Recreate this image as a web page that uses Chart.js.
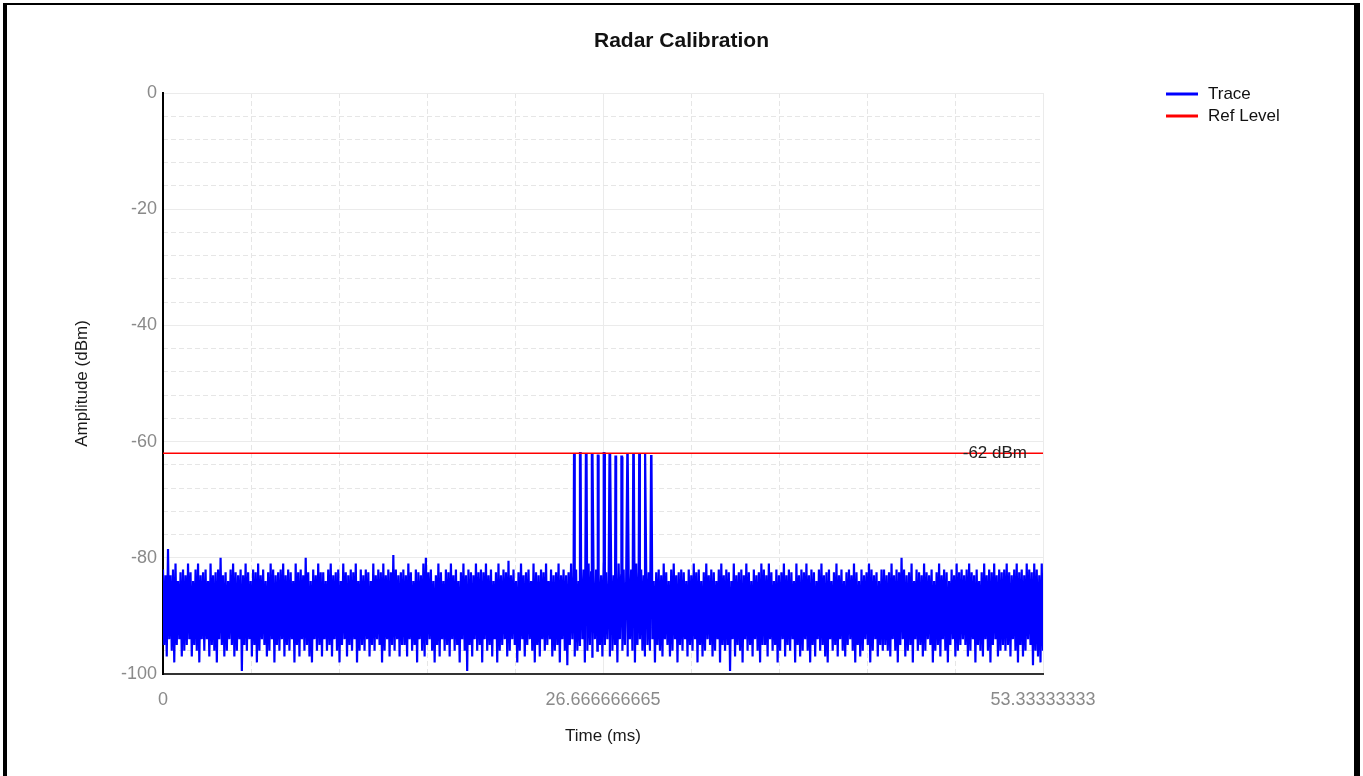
<!DOCTYPE html>
<html>
<head>
<meta charset="utf-8">
<title>Radar Calibration</title>
<script src="https://cdn.jsdelivr.net/npm/chart.js@4.4.1/dist/chart.umd.min.js"></script>
<style>
    html, body { margin: 0; padding: 0; background: #fff; overflow: hidden; }
    canvas { position: absolute; left: 0; top: 0; }
    #frame {
        position: absolute; left: 3px; top: 3px; width: 1347px; height: 800px;
        border-left: 4px solid #000; border-top: 2px solid #000; border-right: 6px solid #000;
        pointer-events: none;
    }
</style>
</head>
<body>
<canvas id="js--chart" width="1363" height="776"></canvas>
<div id="frame"></div>
<script>
const chartTitle = "Radar Calibration";
const xAxisTitle = "Time (ms)";
const yAxisTitle = "Amplitude (dBm)";

const timeMax = 53.33333333;
const xTickValues = [0, 26.666666665, 53.33333333];
const xTickLabels = ["0", "26.666666665", "53.33333333"];

const refLevel = -62;
const refLabel = "-62 dBm";

// noise: top and bottom swing of each sample pair (dBm)
const noiseHigh = [
    -82, -83, -78.5, -83, -82, -81, -84, -82.5, -82, -83, -81, -82.5, -84, -82, -81, -83,
    -82.5, -82, -84, -81, -83, -82.5, -82, -80, -83, -82.5, -84, -82, -81, -82.5, -83, -82,
    -83, -81, -82.5, -84, -82, -82.5, -81, -83, -82, -84, -82.5, -81, -82, -83, -82.5, -82,
    -81, -83, -82, -82.5, -84, -81, -82.5, -82, -83, -80, -82.5, -84, -82, -83, -81, -82.5,
    -82.5, -84, -82, -81, -83, -82.5, -82, -84, -81, -82.5, -83, -82, -82.5, -81, -84, -82,
    -83, -82, -82.5, -84, -81, -83, -82, -82.5, -81, -83, -82, -82.5, -79.5, -82, -83, -82.5,
    -82, -83, -81, -82.5, -84, -82, -82.5, -83, -81, -80, -82.5, -82, -84, -83, -81, -82.5,
    -84, -82, -82.5, -81, -83, -82, -84, -82.5, -81, -83, -82, -82.5, -83, -81, -82.5, -82,
    -82.5, -81, -83, -82, -84, -82.5, -81, -83, -82, -82.5, -80.5, -83, -82, -84, -82.5, -81,
    -83, -82.5, -82, -84, -81, -82.5, -83, -82, -82.5, -81, -84, -82, -83, -82.5, -81, -83,
    -82, -83, -82.5, -81, -83, -82, -84, -82.5, -82, -83, -81, -82.5, -84, -82, -82.5, -83,
    -81, -82.5, -84, -82, -83, -82.5, -81, -83, -82, -84, -82.5, -82, -83, -81, -82.5, -82,
    -83, -82, -82.5, -81, -84, -82.5, -82, -83, -81, -82.5, -84, -82, -81, -83, -82.5, -82,
    -82.5, -84, -82, -83, -81, -82.5, -82, -84, -82.5, -81, -83, -82, -82.5, -84, -82, -81,
    -83, -82, -82.5, -84, -81, -83, -82.5, -82, -83, -81, -82.5, -84, -82, -83, -82.5, -81,
    -82, -83, -81, -82.5, -84, -82, -83, -82.5, -81, -83, -82, -82.5, -84, -81, -83, -82,
    -82.5, -81, -83, -82, -82.5, -84, -82, -81, -83, -82.5, -82, -84, -82.5, -81, -83, -82,
    -84, -82.5, -82, -83, -81, -82.5, -84, -82, -83, -82.5, -81, -82, -83, -82.5, -84, -82,
    -82, -83, -82.5, -81, -83, -82, -82.5, -80, -82, -83, -82.5, -81, -84, -82, -82.5, -83,
    -81, -82.5, -83, -82, -84, -82.5, -81, -83, -82, -82.5, -84, -82, -83, -81, -82.5, -82,
    -83, -82, -81, -82.5, -83, -82, -84, -82.5, -81, -83, -82, -82.5, -81, -83, -82, -82.5,
    -82, -81, -82.5, -83, -82, -81, -82.5, -82, -83, -81, -82, -82.5, -81, -82, -83, -81
];
const noiseLow = [
    -95, -97, -94, -96, -98, -95, -94, -97, -96, -95, -94, -97, -95, -96, -98, -94,
    -96, -94, -97, -95, -96, -98, -94, -95, -97, -96, -94, -95, -97, -96, -94, -99.5,
    -95, -96, -94, -97, -95, -98, -96, -94, -95, -97, -96, -94, -98, -95, -96, -94,
    -97, -95, -96, -94, -98, -95, -97, -94, -96, -95, -97, -98, -94, -96, -95, -97,
    -94, -96, -95, -97, -94, -96, -98, -95, -94, -97, -95, -96, -94, -98, -96, -95,
    -96, -94, -97, -95, -96, -94, -95, -98, -96, -94, -97, -95, -96, -94, -97, -95,
    -95, -97, -94, -96, -95, -98, -94, -96, -97, -95, -94, -96, -98, -95, -97, -94,
    -96, -95, -97, -94, -96, -95, -98, -94, -96, -99.5, -95, -97, -94, -96, -95, -98,
    -94, -96, -95, -97, -94, -98, -96, -95, -94, -97, -96, -94, -95, -98, -96, -94,
    -97, -95, -94, -96, -98, -95, -97, -94, -96, -95, -94, -97, -96, -95, -98, -94,
    -96, -98.5, -95, -94, -97, -96, -95, -94, -98, -96, -95, -97, -94, -96, -95, -97,
    -95, -94, -97, -96, -95, -98, -94, -96, -95, -97, -94, -96, -98, -95, -94, -96,
    -97, -95, -96, -94, -98, -95, -96, -97, -94, -95, -97, -96, -94, -98, -95, -96,
    -94, -97, -95, -96, -94, -98, -95, -97, -96, -94, -95, -97, -96, -94, -98, -95,
    -96, -95, -99.5, -94, -97, -95, -96, -98, -94, -96, -95, -97, -94, -96, -98, -95,
    -95, -97, -94, -96, -95, -98, -96, -94, -97, -95, -96, -94, -98, -95, -97, -96,
    -94, -96, -98, -95, -97, -94, -96, -95, -97, -98, -94, -96, -95, -97, -94, -96,
    -97, -95, -94, -96, -98, -95, -97, -96, -94, -95, -98, -96, -94, -97, -95, -96,
    -95, -96, -97, -94, -96, -98, -95, -94, -97, -96, -95, -98, -94, -96, -95, -97,
    -96, -94, -95, -98, -96, -95, -97, -94, -96, -98, -95, -94, -97, -96, -95, -94,
    -95, -97, -96, -94, -98, -95, -96, -97, -94, -96, -98, -95, -94, -97, -96, -95,
    -96, -95, -97, -94, -96, -98, -95, -97, -96, -94, -95, -98.5, -96, -97, -98, -96
];

// radar pulses (ms) and their peak level (dBm)
const pulseTimes = [24.91, 25.27, 25.63, 25.99, 26.35, 26.71, 27.06, 27.42, 27.78, 28.14, 28.50, 28.86, 29.22, 29.58];
const pulseLevels = [-62, -62, -62, -62, -62.4, -62, -62, -62.6, -62.6, -62, -62, -62, -62, -62.3];
const pulseWidth = 0.04;

const pairCount = Math.min(noiseHigh.length, noiseLow.length);
const sampleStep = timeMax / (pairCount - 0.5);

let tracePoints = [];
for (let i = 0; i < pairCount; i++) {
    tracePoints.push({ x: i * sampleStep, y: noiseHigh[i] });
    tracePoints.push({ x: (i + 0.5) * sampleStep, y: noiseLow[i] });
}
pulseTimes.forEach((t, i) => {
    tracePoints.push({ x: t, y: pulseLevels[i] });
    tracePoints.push({ x: t + pulseWidth, y: pulseLevels[i] });
});
tracePoints.sort((a, b) => a.x - b.x);

const fontFamily = 'Arial, "Liberation Sans", sans-serif';

// title centred on the whole canvas, not on the plot
const titlePlugin = {
    id: "centerTitle",
    afterDraw(chart) {
        const ctx = chart.ctx;
        ctx.save();
        ctx.font = "bold 21px " + fontFamily;
        ctx.fillStyle = "#111";
        ctx.textAlign = "center";
        ctx.textBaseline = "middle";
        ctx.fillText(chartTitle, chart.width / 2, 41);
        ctx.restore();
    }
};

const refLabelPlugin = {
    id: "refLabel",
    afterDatasetsDraw(chart) {
        const { ctx, scales } = chart;
        ctx.save();
        ctx.font = "17px " + fontFamily;
        ctx.fillStyle = "#222";
        ctx.textAlign = "right";
        ctx.textBaseline = "middle";
        ctx.fillText(refLabel, scales.x.right - 16, scales.y.getPixelForValue(refLevel));
        ctx.restore();
    }
};

const sideLegendPlugin = {
    id: "sideLegend",
    afterDraw(chart) {
        const { ctx, chartArea } = chart;
        const left = chartArea.right + 123;
        ctx.save();
        ctx.font = "17px " + fontFamily;
        ctx.textAlign = "left";
        ctx.textBaseline = "middle";
        chart.data.datasets.forEach((ds, i) => {
            const y = chartArea.top + 1 + i * 22;
            ctx.strokeStyle = ds.borderColor;
            ctx.lineWidth = 3;
            ctx.beginPath();
            ctx.moveTo(left, y);
            ctx.lineTo(left + 32, y);
            ctx.stroke();
            ctx.fillStyle = "#111";
            ctx.fillText(ds.label, left + 42, y);
        });
        ctx.restore();
    }
};

const gridMajor = "#ebebeb";
const gridMinor = "#e6e6e6";

const config = {
    type: "line",
    data: {
        datasets: [
            {
                label: "Trace",
                data: tracePoints,
                borderColor: "#0000ff",
                borderWidth: 2.2,
                pointRadius: 0,
                tension: 0,
                order: 1
            },
            {
                label: "Ref Level",
                data: [{ x: 0, y: refLevel }, { x: timeMax, y: refLevel }],
                borderColor: "#ff0000",
                borderWidth: 1.5,
                pointRadius: 0,
                order: 0
            }
        ]
    },
    options: {
        responsive: false,
        animation: false,
        devicePixelRatio: 1,
        parsing: false,
        layout: { padding: { left: 8, right: 320, top: 93, bottom: 25 } },
        plugins: {
            legend: { display: false },
            tooltip: { enabled: false },
            title: { display: false }
        },
        scales: {
            x: {
                type: "linear",
                min: 0,
                max: timeMax,
                afterBuildTicks: (scale) => {
                    scale.ticks = xTickValues.map((v) => ({ value: v }));
                },
                afterFit: (scale) => { scale.height = 77; },
                ticks: {
                    autoSkip: false,
                    maxRotation: 0,
                    padding: 15,
                    color: "#8a8a8a",
                    font: { family: fontFamily, size: 18 },
                    callback: (value, index) => xTickLabels[index]
                },
                grid: { color: gridMajor, drawTicks: false },
                border: { display: true, color: "#333", width: 2 },
                title: {
                    display: true,
                    text: xAxisTitle,
                    color: "#1a1a1a",
                    font: { family: fontFamily, size: 17 },
                    padding: { top: 0, bottom: 4 }
                }
            },
            xMinor: {
                type: "linear",
                position: "bottom",
                min: 0,
                max: timeMax,
                afterBuildTicks: (scale) => {
                    scale.ticks = Array.from({ length: 11 }, (_, i) => ({ value: i * timeMax / 10 }));
                },
                afterFit: (scale) => { scale.height = 0; },
                ticks: { display: false },
                grid: {
                    drawTicks: false,
                    color: (ctx) => (ctx.index % 5 === 0 ? "transparent" : gridMinor)
                },
                border: { display: false, dash: [5, 3] }
            },
            y: {
                type: "linear",
                min: -100,
                max: 0,
                afterFit: (scale) => { scale.width = 155; },
                ticks: {
                    stepSize: 20,
                    padding: 6,
                    color: "#8a8a8a",
                    font: { family: fontFamily, size: 18 }
                },
                grid: { color: gridMajor, drawTicks: false },
                border: { display: true, color: "#000", width: 2 },
                title: {
                    display: true,
                    text: yAxisTitle,
                    color: "#1a1a1a",
                    font: { family: fontFamily, size: 17 },
                    padding: { top: 64, bottom: 0 }
                }
            },
            yMinor: {
                type: "linear",
                position: "left",
                min: -100,
                max: 0,
                afterFit: (scale) => { scale.width = 0; },
                ticks: { display: false, stepSize: 4 },
                grid: {
                    drawTicks: false,
                    color: (ctx) => (ctx.tick.value % 20 === 0 ? "transparent" : gridMinor)
                },
                border: { display: false, dash: [5, 3] }
            }
        }
    },
    plugins: [titlePlugin, refLabelPlugin, sideLegendPlugin]
};

const chart = new Chart(document.getElementById("js--chart"), config);
</script>
</body>
</html>
